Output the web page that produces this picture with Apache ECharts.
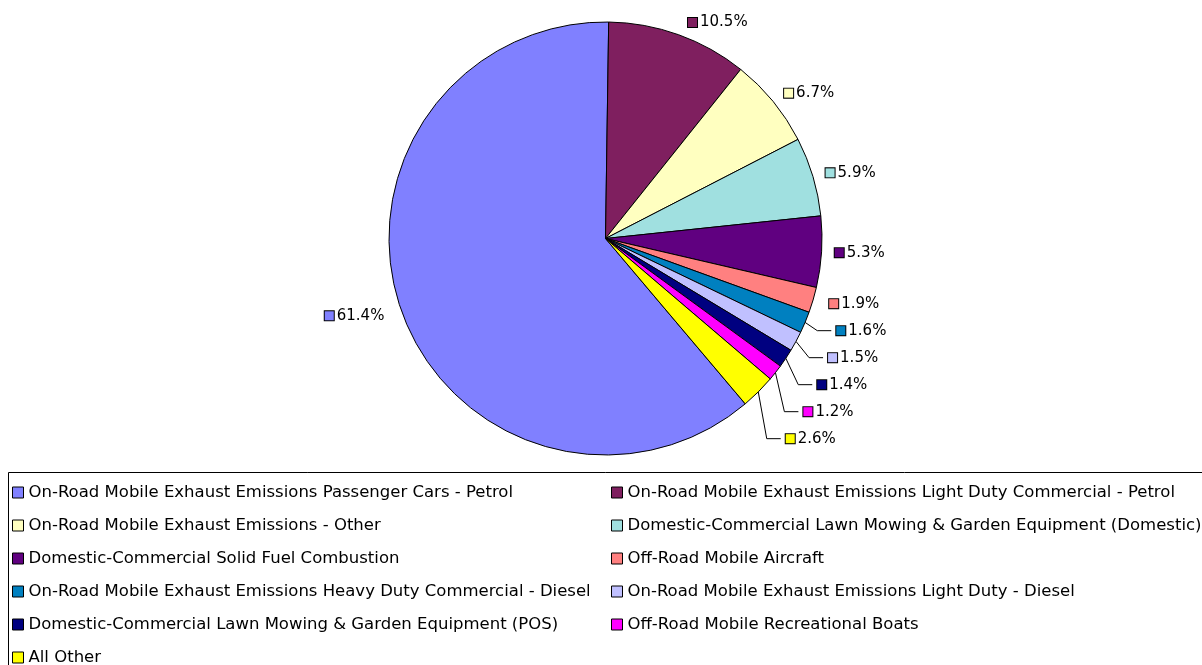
<!DOCTYPE html>
<html>
<head>
<meta charset="utf-8">
<script src="https://cdn.jsdelivr.net/npm/echarts@6/dist/echarts.min.js"></script>
<style>
html,body{margin:0;padding:0;background:#fff;}
#c{width:1202px;height:665px;}
</style>
</head>
<body>
<div id="c"></div>
<script>
const categories = [
  "On-Road Mobile Exhaust Emissions Passenger Cars - Petrol",
  "On-Road Mobile Exhaust Emissions Light Duty Commercial - Petrol",
  "On-Road Mobile Exhaust Emissions - Other",
  "Domestic-Commercial Lawn Mowing & Garden Equipment (Domestic)",
  "Domestic-Commercial Solid Fuel Combustion",
  "Off-Road Mobile Aircraft",
  "On-Road Mobile Exhaust Emissions Heavy Duty Commercial - Diesel",
  "On-Road Mobile Exhaust Emissions Light Duty - Diesel",
  "Domestic-Commercial Lawn Mowing & Garden Equipment (POS)",
  "Off-Road Mobile Recreational Boats",
  "All Other"
];
const values = [61.4, 10.5, 6.7, 5.9, 5.3, 1.9, 1.6, 1.5, 1.4, 1.2, 2.6];
const colors = ["#8080FF","#7F1F5F","#FFFFC0","#A0E0E0","#600080","#FF8080","#0080C0","#C0C0FF","#000080","#FF00FF","#FFFF00"];
const valueLabels = ["61.4%","10.5%","6.7%","5.9%","5.3%","1.9%","1.6%","1.5%","1.4%","1.2%","2.6%"];

const FONT = "'DejaVu Sans', Verdana, sans-serif";
const rich = {t:{fontFamily:FONT,fontSize:15,color:"#000",padding:[0,0,0,3],lineHeight:25}};
colors.forEach((c,i)=>{ rich["m"+i] = {width:9,height:9,backgroundColor:c,borderColor:"#000",borderWidth:1}; });

const smallIdx = new Set([6,7,8,9,10]);
const data = categories.map((name,i)=>({
  name, value: values[i],
  itemStyle:{color:colors[i]},
  labelLine: smallIdx.has(i)
    ? {show:true, length:12, length2:14}
    : {show:false, length:13, length2:0}
}));

const chart = echarts.init(document.getElementById('c'), null, {renderer:'canvas'});
chart.setOption({
  animation:false,
  color: colors,
  graphic:[{type:'rect',shape:{x:8.5,y:472.5,width:1300,height:300},style:{fill:'none',stroke:'#000',lineWidth:1},z:-1}],
  legend:{
    orient:'horizontal',
    left:12, top:481, width:1190, padding:0,
    itemWidth:11, itemHeight:11, itemGap:10,
    icon:'rect',
    itemStyle:{borderColor:'#000',borderWidth:1},
    textStyle:{fontFamily:FONT,fontSize:16.5,color:'#000',width:572.5,lineHeight:23,padding:[0,0,0,0]},
    data: categories
  },
  series:[{
    type:'pie',
    center:[605.5,238.5],
    radius:[0,216.5],
    startAngle:-49.8,
    clockwise:true,
    avoidLabelOverlap:true,
    data,
    itemStyle:{borderColor:'#000',borderWidth:1},
    label:{
      show:true, position:'outside',
      lineHeight:25,
      formatter:(p)=>`{m${p.dataIndex}|}{t|${valueLabels[p.dataIndex]}}`,
      rich
    },
    labelLine:{lineStyle:{color:'#000',width:1}},
    emphasis:{disabled:true}
  }]
});
</script>
</body>
</html>
